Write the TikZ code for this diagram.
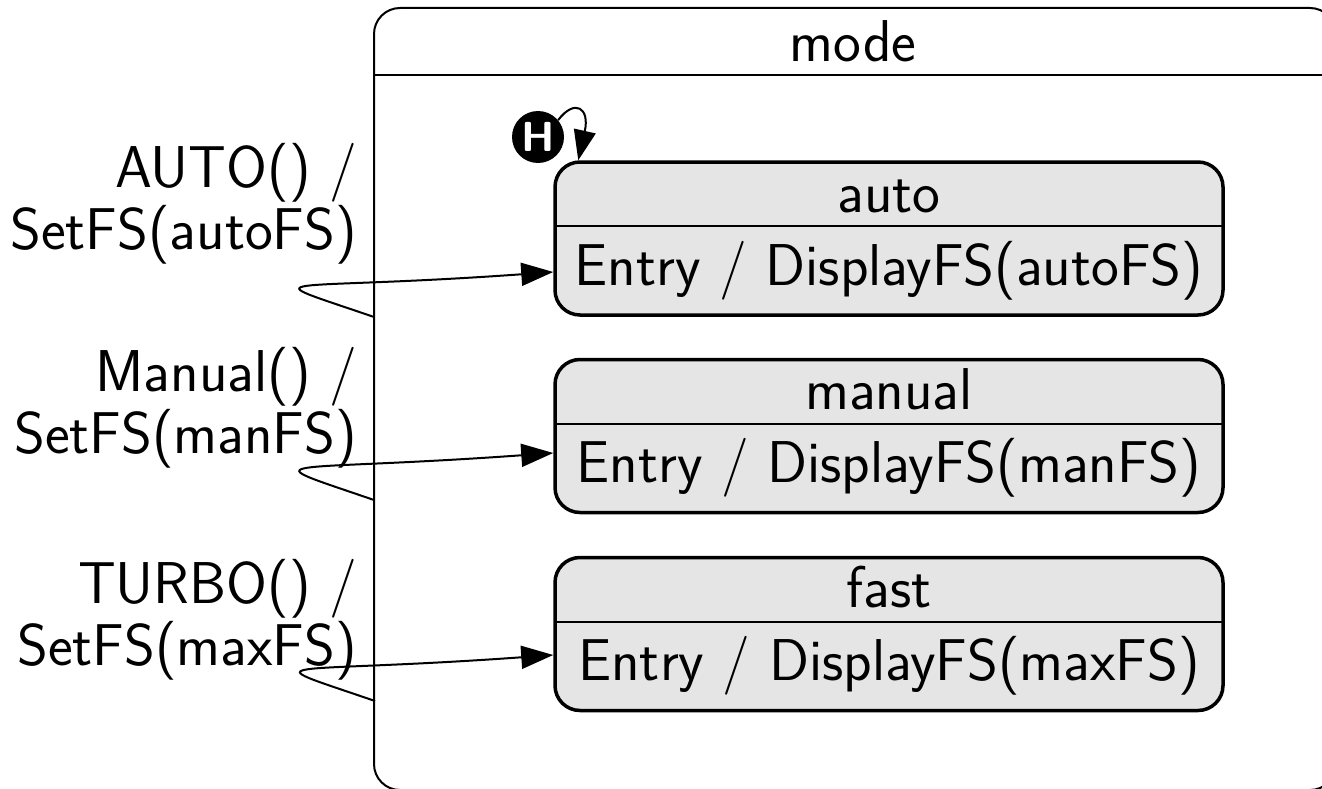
\documentclass[tikz,border=0pt]{standalone}
\usetikzlibrary{arrows.meta,calc}
\begin{document}
\begin{tikzpicture}[x=1pt,y=-1pt,
  txt/.style={font=\fontsize{59}{62}\selectfont\sffamily, inner sep=0pt},
  lbl/.style={txt, align=right, anchor=east},
  composite/.style={draw, line width=2pt, rounded corners=26pt, inner sep=0pt},
  statebox/.style={draw, line width=3.5pt, rounded corners=25pt, fill=black!10,
    minimum width=668pt, minimum height=153pt, inner sep=0pt},
  divider/.style={line width=2pt},
  trans/.style={line width=2pt, -{Triangle[length=32pt,width=23pt]}},
  hist/.style={circle, fill=black, minimum size=52pt, inner sep=0pt,
    text=white, font=\fontsize{42}{42}\selectfont\sffamily\bfseries},
]
\useasboundingbox (0,0) rectangle (1322,789);
\clip (0,0) rectangle (1322,789);

% composite state "mode"
\node[composite, minimum width=962pt, minimum height=782pt] (mode) at (855,399) {};
\draw[divider] (374,75) -- (1336,75);
\node[txt, anchor=base] (modetitle) at (853,62) {mode};

% sub-states
\foreach \nm/\ttl/\fs/\y in {auto/auto/autoFS/238.5, manual/manual/manFS/436, fast/fast/maxFS/634}{
  \node[statebox] (\nm) at (889,\y) {};
  \draw[divider] ($(\nm.north west)+(1.75,66)$) -- ($(\nm.north east)+(-1.75,66)$);
  \node[txt, anchor=base] (\nm title) at ($(\nm.north)+(0,52)$) {\ttl};
  \node[txt, anchor=base] (\nm entry) at ($(\nm.north)+(0,125)$) {Entry / DisplayFS(\fs)};
}

% history pseudo-state
\node[hist] (h) at (538,137) {H};
\draw[line width=2pt, -{Triangle[length=30pt,width=22pt]}]
  (h.40) .. controls (575,98) and (590,108) .. ([xshift=25pt]auto.north west);

% transition labels
\node[lbl] (lauto) at (357,204) {AUTO() /\\SetFS(autoFS)};
\node[lbl] (lmanual) at (357,408) {Manual() /\\SetFS(manFS)};
\node[lbl] (lfast) at (357,620) {TURBO() /\\SetFS(maxFS)};

% transitions leaving the composite border
\coordinate (sa) at (374,317);
\coordinate (sm) at (374,500);
\coordinate (sf) at (375,701);
\draw[trans] (sa) .. controls +(-128,-44) and +(-279,20) .. ([yshift=-33.5pt]auto.west);
\draw[trans] (sm) .. controls +(-128,-44) and +(-279,20) .. ([yshift=-17pt]manual.west);
\draw[trans] (sf) .. controls +(-128,-44) and +(-279,20) .. ([yshift=-21pt]fast.west);
\end{tikzpicture}
\end{document}
